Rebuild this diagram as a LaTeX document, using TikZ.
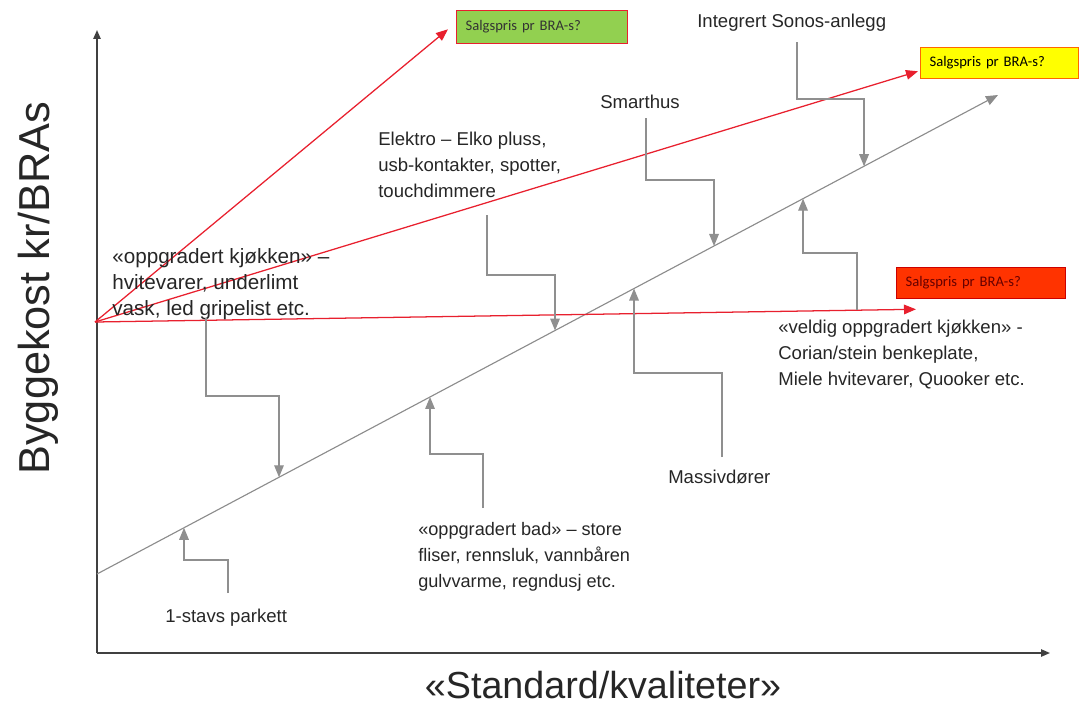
\documentclass[tikz,border=0pt]{standalone}
\usepackage{fontspec}
\setmainfont{Liberation Sans}
\newfontfamily\carlito{Carlito}
\usetikzlibrary{arrows.meta,calc}
\definecolor{axisgray}{HTML}{404040}
\definecolor{linegray}{HTML}{8C8C8C}
\definecolor{conngray}{HTML}{8F8F8F}
\definecolor{prisred}{HTML}{E8202E}
\definecolor{boxgreen}{HTML}{92D050}
\definecolor{boxyellow}{HTML}{FFFF00}
\definecolor{boxred}{HTML}{FF3300}
\tikzset{
  akse/.style   ={draw=axisgray, line width=1.1pt, -{Triangle[length=2.2mm,width=1.8mm]}},
  trend/.style  ={draw=linegray, line width=0.8pt, -{Triangle[length=3mm,width=2.4mm]}},
  conn/.style   ={draw=conngray, line width=0.9pt, -{Triangle[length=3mm,width=2.4mm]}},
  pris/.style   ={draw=prisred, line width=0.9pt, -{Triangle[length=3mm,width=2.4mm]}},
  tiltak/.style ={anchor=north west, inner sep=0pt, align=left, text=black!85,
    font=\fontsize{13.2}{18.4}\selectfont},
  salg/.style   ={draw=prisred, line width=0.9pt, anchor=north west, inner xsep=0.225cm,
    inner ysep=0pt, align=left, font=\carlito\fontsize{10.4}{12}\selectfont}}

\begin{document}
\begin{tikzpicture}[x=0.025cm, y=-0.025cm]
\useasboundingbox (0,0) rectangle (1086,706);

% axes
\coordinate (origo) at (97,653);
\coordinate (ytop)  at (97,30);
\coordinate (xend)  at (1050,653);
\draw[akse] (origo) -- (ytop);
\draw[akse] (origo) -- (xend);
\node[rotate=90, text=black!85, font=\fontsize{30.8}{36}\selectfont] (ylab) at (38,288) {Byggekost kr/BRAs};
\node[text=black!85, font=\fontsize{26.8}{32}\selectfont] (xlab) at (603,685) {«Standard/kvaliteter»};

% cost line
\coordinate (lo) at (97,574);
\coordinate (hi) at (998,95);
\draw[trend] (lo) -- (hi);

% price boxes
\node[salg, fill=boxgreen, text=black!80, text width=3.825cm, minimum height=0.825cm] (gronn) at (456,10) {Salgspris pr BRA-s?};
\node[salg, fill=boxyellow, draw=orange!80!red, text=black, text width=3.5cm, minimum height=0.775cm] (gul) at (920,47) {Salgspris pr BRA-s?};
\node[salg, fill=boxred, draw=red!80!black, text=red!40!black, text width=3.775cm, minimum height=0.775cm] (rod) at (896,267) {Salgspris pr BRA-s?};

\coordinate (o) at (95,322);
\draw[pris] (o) -- ($(gronn.south west)+(-8,-15)$);
\draw[pris] (o) -- ($(gul.south west)+(-2,-8)$);
\draw[pris] (o) -- ($(rod.south west)+(20,10)$);

% labels
\node[tiltak, font=\fontsize{14.7}{18.4}\selectfont] (kjok) at (112,248) {«oppgradert kjøkken» –\\hvitevarer, underlimt\\vask, led gripelist etc.};
\node[tiltak] (elek) at (378,132) {Elektro – Elko pluss,\\usb-kontakter, spotter,\\touchdimmere};
\node[tiltak] (smart) at (600,95) {Smarthus};
\node[tiltak] (sonos) at (697,14) {Integrert Sonos-anlegg};
\node[tiltak] (veld) at (778,320) {«veldig oppgradert kjøkken» -\\Corian/stein benkeplate,\\Miele hvitevarer, Quooker etc.};
\node[tiltak] (mass) at (668,470) {Massivdører};
\node[tiltak, font=\fontsize{12.9}{18.4}\selectfont] (bad) at (418,522) {«oppgradert bad» – store\\fliser, rennsluk, vannbåren\\gulvvarme, regndusj etc.};
\node[tiltak] (park) at (165,609) {1-stavs parkett};

% tips on the cost line
\coordinate (t-kjok)  at (intersection of lo--hi and 279,0--279,700);
\coordinate (t-park)  at (intersection of lo--hi and 184,0--184,700);
\coordinate (t-bad)   at (intersection of lo--hi and 430,0--430,700);
\coordinate (t-mass)  at (intersection of lo--hi and 634,0--634,700);
\coordinate (t-elek)  at (intersection of lo--hi and 555,0--555,700);
\coordinate (t-smart) at (intersection of lo--hi and 714,0--714,700);
\coordinate (t-sonos) at (intersection of lo--hi and 864,0--864,700);
\coordinate (t-veld)  at (intersection of lo--hi and 803,0--803,700);

% connectors
\draw[conn] (kjok.north west) ++(94,70) -- ++(0,78) -| (t-kjok);
\draw[conn] (park.north west) ++(63,-16) -- ++(0,-33) -| (t-park);
\draw[conn] (bad.north west) ++(65,-14) -- ++(0,-54) -| (t-bad);
\draw[conn] (mass.north west) ++(54,-13) -- ++(0,-84) -| (t-mass);
\draw[conn] (elek.north west) ++(109,83) -- ++(0,60) -| (t-elek);
\draw[conn] (smart.north west) ++(46,23) -- ++(0,62) -| (t-smart);
\draw[conn] (sonos.north west) ++(100,28) -- ++(0,57) -| (t-sonos);
\draw[conn] (veld.north west) ++(79,-10) -- ++(0,-57) -| (t-veld);
\end{tikzpicture}
\end{document}
